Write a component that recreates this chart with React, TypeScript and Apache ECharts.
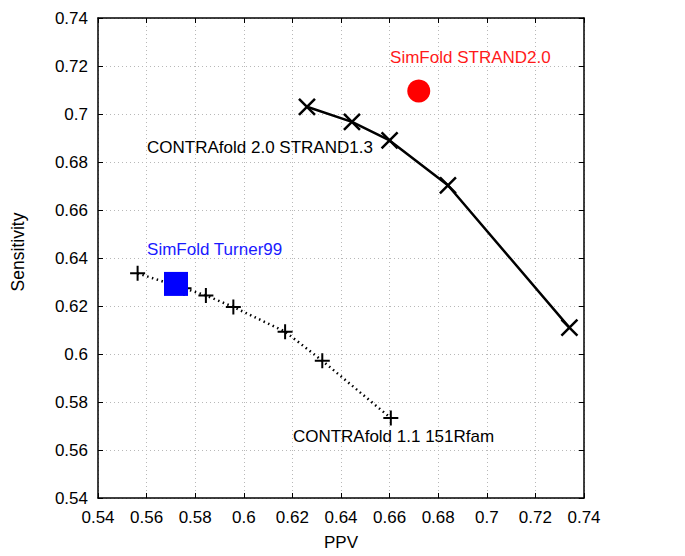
import React, { useEffect, useRef } from "react";
import * as echarts from "echarts";

const xTicks = [0.54, 0.56, 0.58, 0.6, 0.62, 0.64, 0.66, 0.68, 0.7, 0.72, 0.74];
const yTicks = [0.54, 0.56, 0.58, 0.6, 0.62, 0.64, 0.66, 0.68, 0.7, 0.72, 0.74];

// CONTRAfold 2.0 STRAND1.3 (solid line, X markers)
const contra20PPV = [0.626, 0.6445, 0.66, 0.684, 0.734];
const contra20Sens = [0.703, 0.6967, 0.689, 0.6703, 0.611];

// CONTRAfold 1.1 151Rfam (dotted line, + markers)
const contra11PPV = [0.5563, 0.5754, 0.5844, 0.5957, 0.617, 0.6323, 0.6605];
const contra11Sens = [0.6336, 0.6274, 0.6244, 0.6196, 0.6093, 0.5972, 0.5733];

// SimFold points
const simStrandPPV = [0.672];
const simStrandSens = [0.7096];
const simTurnerPPV = [0.5721];
const simTurnerSens = [0.6292];

// Annotation labels and anchors
const annTexts = ["SimFold STRAND2.0", "CONTRAfold 2.0 STRAND1.3", "SimFold Turner99", "CONTRAfold 1.1 151Rfam"];
const annPPV = [0.6602, 0.5602, 0.5602, 0.6202];
const annSens = [0.7235, 0.6859, 0.6435, 0.5656];
const annColors = ["#ff1a1a", "#000000", "#1a1aff", "#000000"];

const xName = "PPV";
const yName = "Sensitivity";

const FONT = "'Liberation Sans', Arial, Helvetica, sans-serif";

export default function App() {
  const ref = useRef<HTMLDivElement>(null);
  useEffect(() => {
    if (!ref.current) return;
    const chart = echarts.init(ref.current, null, { renderer: "svg" });
    const zip = (a: number[], b: number[]) => a.map((v, i) => [v, b[i]]);
    const fmt = (v: number) => String(parseFloat(v.toFixed(2)));
    const tick = { show: true, inside: true, length: 5, lineStyle: { color: "#000", width: 1 } };
    const line = { show: true, onZero: false, lineStyle: { color: "#000", width: 1.5 } };
    const split = { show: true, lineStyle: { color: "#b8b8b8", width: 1, type: [1, 3] } };
    const option: any = {
      animation: false,
      textStyle: { fontFamily: FONT },
      grid: { left: 98, right: 101, top: 18, bottom: 52, containLabel: false },
      graphic: [
        {
          type: "text",
          x: 18,
          y: 252,
          rotation: Math.PI / 2,
          style: {
            text: yName,
            fontSize: 17.5,
            fontFamily: FONT,
            fill: "#000",
            align: "center",
            verticalAlign: "middle",
          },
        },
      ],
      xAxis: [
        {
          type: "value",
          min: xTicks[0],
          max: xTicks[xTicks.length - 1],
          interval: 0.02,
          position: "bottom",
          name: xName,
          nameLocation: "middle",
          nameGap: 36,
          nameTextStyle: { fontSize: 17, color: "#000", fontFamily: FONT },
          axisLine: line,
          axisTick: tick,
          axisLabel: { fontSize: 17, color: "#000", margin: 11, fontFamily: FONT, formatter: fmt },
          splitLine: split,
        },
        {
          type: "value",
          min: xTicks[0],
          max: xTicks[xTicks.length - 1],
          interval: 0.02,
          position: "top",
          axisLine: line,
          axisTick: tick,
          axisLabel: { show: false },
          splitLine: { show: false },
        },
      ],
      yAxis: [
        {
          type: "value",
          min: yTicks[0],
          max: yTicks[yTicks.length - 1],
          interval: 0.02,
          position: "left",
          axisLine: line,
          axisTick: tick,
          axisLabel: { fontSize: 17, color: "#000", margin: 10, fontFamily: FONT, formatter: fmt },
          splitLine: split,
        },
        {
          type: "value",
          min: yTicks[0],
          max: yTicks[yTicks.length - 1],
          interval: 0.02,
          position: "right",
          axisLine: line,
          axisTick: tick,
          axisLabel: { show: false },
          splitLine: { show: false },
        },
      ],
      series: [
        {
          type: "line",
          data: zip(contra11PPV, contra11Sens),
          symbol: "path://M5,0L5,10M0,5L10,5",
          symbolSize: 15,
          itemStyle: { color: "rgba(0,0,0,0)", borderColor: "#000", borderWidth: 2 },
          lineStyle: { color: "#000", width: 2.5, type: [1.5, 3.5] },
          z: 3,
        },
        {
          type: "scatter",
          data: zip(simTurnerPPV, simTurnerSens),
          symbol: "rect",
          symbolSize: 24,
          itemStyle: { color: "#0000ff", opacity: 1 },
          z: 4,
        },
        {
          type: "line",
          data: zip(contra20PPV, contra20Sens),
          symbol: "path://M0,0L10,10M10,0L0,10",
          symbolSize: 16,
          itemStyle: { color: "rgba(0,0,0,0)", borderColor: "#000", borderWidth: 2.5 },
          lineStyle: { color: "#000", width: 2.5 },
          z: 3,
        },
        {
          type: "scatter",
          data: zip(simStrandPPV, simStrandSens),
          symbol: "circle",
          symbolSize: 23,
          itemStyle: { color: "#ff0000", opacity: 1 },
          z: 4,
        },
        {
          type: "scatter",
          symbolSize: 0,
          silent: true,
          itemStyle: { opacity: 1 },
          data: annTexts.map((t, i) => ({
            value: [annPPV[i], annSens[i]],
            label: {
              show: true,
              formatter: t,
              position: "right",
              distance: 0,
              color: annColors[i],
              fontSize: 17,
              fontFamily: FONT,
            },
          })),
          z: 5,
        },
      ],
    };
    chart.setOption(option);
    return () => chart.dispose();
  }, []);
  return <div ref={ref} style={{ width: 685, height: 556, margin: -8, background: "#fff" }} />;
}
